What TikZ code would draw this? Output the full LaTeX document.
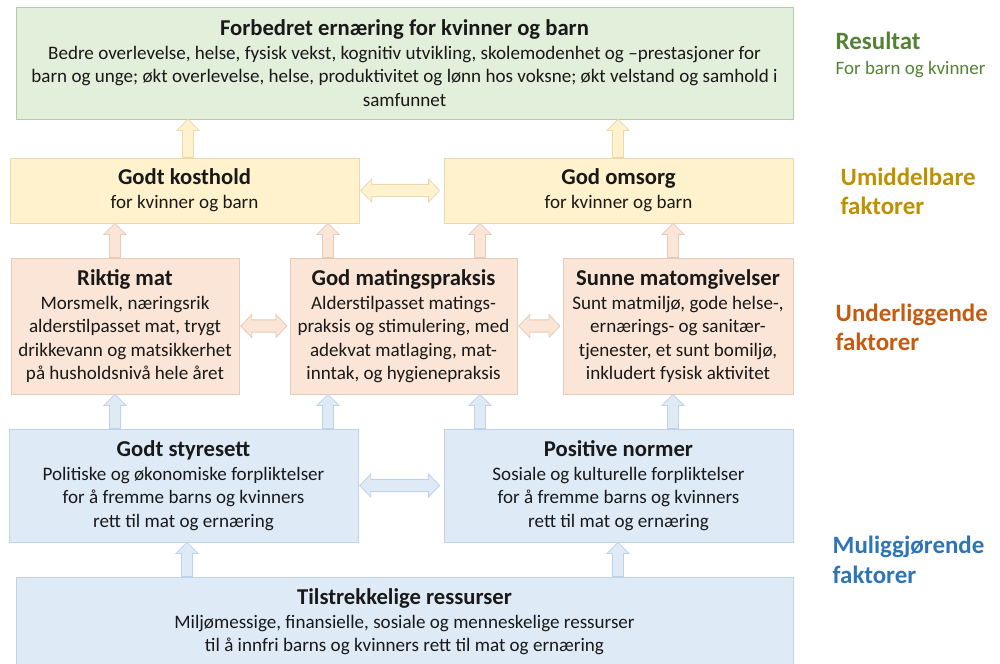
\documentclass[tikz,border=0pt]{standalone}
\usepackage{fontspec}
\setmainfont{Carlito}
\usepackage{tikz}
\usepackage{xcolor}
\usetikzlibrary{calc}
\definecolor{cOutcome}{HTML}{E2EFDA}
\definecolor{cImmediate}{HTML}{FFF2CC}
\definecolor{cUnder}{HTML}{FBE5D6}
\definecolor{cEnable}{HTML}{DEEBF7}
\definecolor{lOutcome}{HTML}{B9C8AE}
\definecolor{lImmediate}{HTML}{E9D9AE}
\definecolor{lUnder}{HTML}{E6CBB8}
\definecolor{lEnable}{HTML}{BFD2E6}
\definecolor{tGreen}{HTML}{548235}
\definecolor{tGold}{HTML}{BF9000}
\definecolor{tOrange}{HTML}{C55A11}
\definecolor{tBlue}{HTML}{2E75B6}
\newcommand{\ttl}[1]{{\fontsize{17}{20}\selectfont\bfseries #1}}
% fat block arrows: style, start, tip
\newcommand{\fatup}[3]{%
	\path[#1] let \p1=(#2), \p2=(#3) in
		(\x1-4.1pt,\y1) -- (\x1-4.1pt,\y2-8.25pt) -- (\x1-8.25pt,\y2-8.25pt) -- (\x1,\y2)
		-- (\x1+8.25pt,\y2-8.25pt) -- (\x1+4.1pt,\y2-8.25pt) -- (\x1+4.1pt,\y1) -- cycle;}
\newcommand{\fatboth}[3]{%
	\path[#1] let \p1=(#2), \p2=(#3) in
		(\x1,\y1) -- (\x1+8.25pt,\y1+8.6pt) -- (\x1+8.25pt,\y1+4.6pt) -- (\x2-8.25pt,\y1+4.6pt)
		-- (\x2-8.25pt,\y1+8.6pt) -- (\x2,\y1) -- (\x2-8.25pt,\y1-8.6pt) -- (\x2-8.25pt,\y1-4.6pt)
		-- (\x1+8.25pt,\y1-4.6pt) -- (\x1+8.25pt,\y1-8.6pt) -- cycle;}
\tikzset{
	panel/.style     ={rectangle, inner sep=0pt, align=center, line width=0.6pt, text=black!90, font=\fontsize{14.3}{17.5}\selectfont},
	outcome/.style   ={panel, fill=cOutcome, draw=lOutcome, minimum width=582.75pt, minimum height=84pt},
	immediate/.style ={panel, fill=cImmediate, draw=lImmediate, minimum width=261.75pt, minimum height=48.75pt},
	underlying/.style={panel, fill=cUnder, draw=lUnder, minimum width=171pt, minimum height=102pt},
	enabling/.style  ={panel, fill=cEnable, draw=lEnable, minimum width=261.75pt, minimum height=84.75pt},
	tier/.style      ={anchor=west, align=left, font=\fontsize{18.7}{22}\selectfont\bfseries},
	% arrow fills
	arrI/.style={fill=cImmediate, draw=lImmediate, line width=0.6pt},
	arrU/.style={fill=cUnder, draw=lUnder, line width=0.6pt},
	arrE/.style={fill=cEnable, draw=lEnable, line width=0.6pt},
}
\begin{document}
\begin{tikzpicture}[x=0.75pt, y=-0.75pt]
	\useasboundingbox (0,0) rectangle (1000,664);
	% boxes
	\node[outcome] (res) at (404.5,63) {\ttl{Forbedret ernæring for kvinner og barn}\\[0.5pt]
		Bedre overlevelse, helse, fysisk vekst, kognitiv utvikling, skolemodenhet og –prestasjoner for\\
		barn og unge; økt overlevelse, helse,  produktivitet og lønn hos voksne; økt velstand og samhold i\\
		samfunnet};
	\node[immediate] (kost) at (184.5,190.5) {\ttl{Godt kosthold}\\[0.5pt] for kvinner og barn};
	\node[immediate] (oms) at (618.5,190.5) {\ttl{God omsorg}\\[0.5pt] for kvinner og barn};
	\node[underlying] (mat) at (125,326) {\ttl{Riktig mat}\\[0.5pt] Morsmelk, næringsrik\\ alderstilpasset mat,  trygt\\ drikkevann og matsikkerhet\\ på husholdsnivå hele året};
	\node[underlying, minimum width=170.25pt] (prak) at (403.5,326) {\ttl{God matingspraksis}\\[0.5pt] Alderstilpasset matings-\\ praksis og stimulering, med\\ adekvat matlaging, mat-\\ inntak, og hygienepraksis};
	\node[underlying, minimum width=172.5pt] (omg) at (678,326) {\ttl{Sunne matomgivelser}\\[0.5pt] Sunt matmiljø, gode helse-,\\ ernærings-  og sanitær-\\ tjenester, et sunt bomiljø,\\ inkludert fysisk aktivitet};
	\node[enabling] (styr) at (183.5,485.5) {\ttl{Godt styresett}\\[0.5pt] Politiske og økonomiske forpliktelser\\ for å fremme barns og kvinners\\ rett til mat og ernæring};
	\node[enabling] (norm) at (618.5,485.5) {\ttl{Positive normer}\\[0.5pt] Sosiale og kulturelle forpliktelser\\ for å fremme barns og kvinners\\ rett til mat og ernæring};
	\node[enabling, minimum width=582.75pt, minimum height=66.75pt] (ress) at (404.5,621.5) {\ttl{Tilstrekkelige ressurser}\\[0.5pt] Miljømessige, finansielle, sosiale og menneskelige ressurser\\ til å innfri barns og kvinners rett til mat og ernæring};
	% tier labels
	\node[tier, text=tGreen] (lres) at (831,55) {Resultat\\[-3pt] {\fontsize{14.2}{17}\selectfont\mdseries For barn og kvinner}};
	\node[tier, text=tGold] (limm) at (836,191.5) {Umiddelbare\\ faktorer};
	\node[tier, text=tOrange] (lund) at (831,327.5) {Underliggende\\ faktorer};
	\node[tier, text=tBlue] (lenb) at (828,560) {Muliggjørende\\ faktorer};
	% arrows
	\fatup{arrI}{188,0 |- kost.north}{res.south}
	\fatup{arrI}{618,0 |- oms.north}{res.south}
	\fatup{arrU}{115,0 |- mat.north}{kost.south}
	\fatup{arrU}{328,0 |- prak.north}{kost.south}
	\fatup{arrU}{480,0 |- prak.north}{oms.south}
	\fatup{arrU}{673,0 |- omg.north}{oms.south}
	\fatup{arrE}{115,0 |- styr.north}{mat.south}
	\fatup{arrE}{328,0 |- styr.north}{prak.south}
	\fatup{arrE}{480,0 |- norm.north}{prak.south}
	\fatup{arrE}{673,0 |- norm.north}{omg.south}
	\fatup{arrE}{187,0 |- ress.north}{styr.south}
	\fatup{arrE}{618,0 |- ress.north}{norm.south}
	\fatboth{arrI}{[xshift=1pt]kost.east}{[xshift=-3pt]oms.west}
	\fatboth{arrU}{[xshift=1pt]mat.east}{[xshift=-2pt]prak.west}
	\fatboth{arrU}{[xshift=1pt]prak.east}{[xshift=-2pt]omg.west}
	\fatboth{arrE}{[xshift=1pt]styr.east}{[xshift=-3pt]norm.west}
\end{tikzpicture}
\end{document}
